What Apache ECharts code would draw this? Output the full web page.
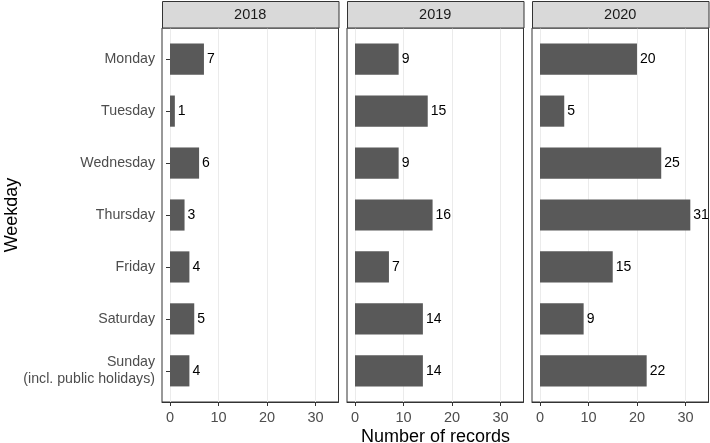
<!DOCTYPE html>
<html>
<head>
<meta charset="utf-8">
<script src="https://cdn.jsdelivr.net/npm/echarts@6/dist/echarts.min.js"></script>
<style>html,body{margin:0;padding:0;background:#fff;}#c{width:710px;height:443px;}</style>
</head>
<body>
<div id="c"></div>
<script>
const years = ['2018', '2019', '2020'];
const weekdays = ['Monday', 'Tuesday', 'Wednesday', 'Thursday', 'Friday', 'Saturday', 'Sunday\n(incl. public holidays)'];
const counts2018 = [7, 1, 6, 3, 4, 5, 4];
const counts2019 = [9, 15, 9, 16, 7, 14, 14];
const counts2020 = [20, 5, 25, 31, 15, 9, 22];
const xTicks = [0, 10, 20, 30];
const xTitle = 'Number of records';
const yTitle = 'Weekday';

const seriesData = [counts2018, counts2019, counts2020];
const FONT = 'Liberation Sans, Arial, Helvetica, sans-serif';
const panelLefts = [162, 347, 532];
const panelW = 176.5;
const panelTop = 28, panelBottom = 402;
const panelH = panelBottom - panelTop;
const xMin = -1.65, xMax = 34.75;
const band = panelH / 7.2;
const innerTop = panelTop + 0.1 * band;
const innerH = band * 7;

const grid = [], xAxis = [], yAxis = [], series = [], graphic = [];
years.forEach((yr, i) => {
  const L = panelLefts[i];
  // frame grid
  grid.push({left: L, top: panelTop, width: panelW, height: panelH, show: true,
    borderColor: '#333333', borderWidth: 1, backgroundColor: '#ffffff', containLabel: false});
  xAxis.push({type: 'value', gridIndex: 2*i, min: xMin, max: xMax,
    axisLine: {show: true, lineStyle: {color: '#333333', width: 1}},
    axisTick: {show: true, length: 4, customValues: xTicks, lineStyle: {color: '#333333'}},
    axisLabel: {show: true, customValues: xTicks, color: '#4D4D4D', fontSize: 14.5, fontFamily: FONT, margin: 8},
    splitLine: {show: true, lineStyle: {color: '#EBEBEB', width: 1}}});
  yAxis.push({type: 'value', gridIndex: 2*i, show: false, min: 0, max: 1, splitLine: {show: false}});
  // data grid
  grid.push({left: L, top: innerTop, width: panelW, height: innerH, show: false});
  xAxis.push({type: 'value', gridIndex: 2*i+1, min: xMin, max: xMax, show: false, splitLine: {show: false}});
  yAxis.push({type: 'category', gridIndex: 2*i+1, data: weekdays, inverse: true,
    axisLine: {show: false},
    axisTick: {show: i === 0, length: 4, alignWithLabel: true, lineStyle: {color: '#333333'}},
    axisLabel: {show: i === 0, color: '#4D4D4D', fontSize: 14.2, fontFamily: FONT, margin: 7, lineHeight: 17, align: 'right'},
    splitLine: {show: false}});
  series.push({type: 'bar', xAxisIndex: 2*i+1, yAxisIndex: 2*i+1, data: seriesData[i],
    barWidth: '60%', itemStyle: {color: '#595959'},
    label: {show: true, position: 'right', distance: 3, color: '#000000', fontSize: 14, fontFamily: FONT},
    silent: true, animation: false});
  // strip
  graphic.push({type: 'rect', shape: {x: L + 0.5, y: 1.5, width: panelW, height: panelTop - 1.5},
    style: {fill: '#D9D9D9', stroke: '#333333', lineWidth: 1}, z: 10});
  graphic.push({type: 'text', x: L + panelW / 2, y: (1.5 + panelTop) / 2 + 0.5,
    style: {text: yr, fill: '#1A1A1A', font: '14.5px ' + FONT, align: 'center', verticalAlign: 'middle'}, z: 11});
});
graphic.push({type: 'text', x: 435.5, y: 437,
  style: {text: xTitle, fill: '#000000', font: '18px ' + FONT, align: 'center', verticalAlign: 'middle'}});
graphic.push({type: 'text', x: 12, y: 215, rotation: Math.PI / 2,
  style: {text: yTitle, fill: '#000000', font: '18px ' + FONT, align: 'center', verticalAlign: 'middle'}});

const chart = echarts.init(document.getElementById('c'), null, {renderer: 'canvas'});
chart.setOption({animation: false, grid, xAxis, yAxis, series, graphic});
</script>
</body>
</html>
